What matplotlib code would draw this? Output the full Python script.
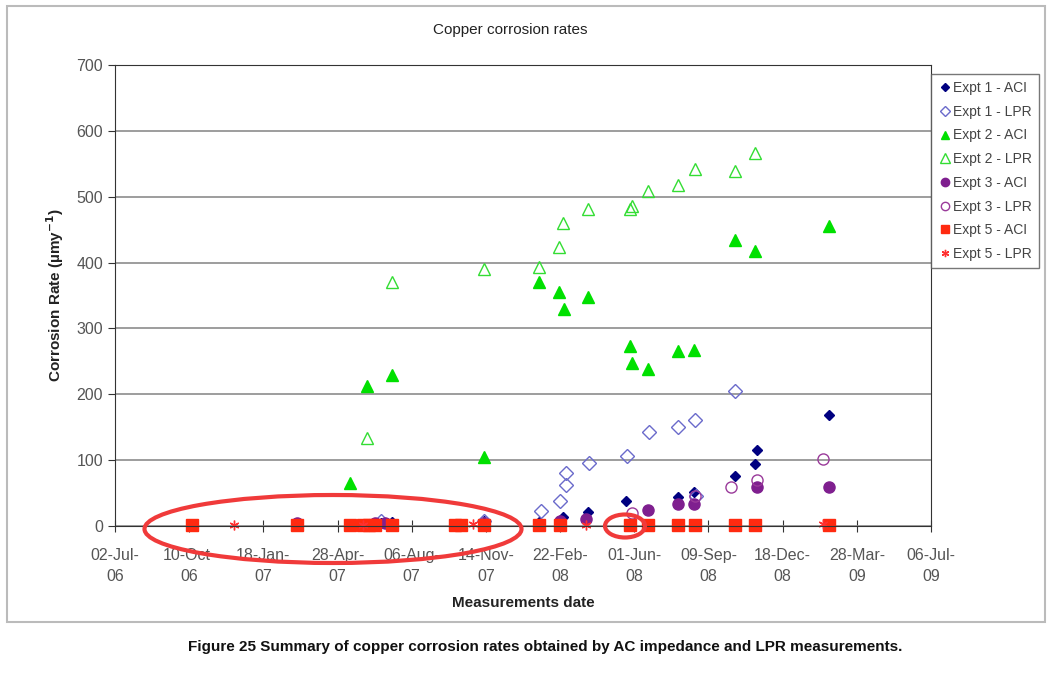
import matplotlib
matplotlib.use('Agg')
import matplotlib.pyplot as plt
import matplotlib.dates as mdates
from matplotlib.patches import Ellipse, Rectangle
import numpy as np
import datetime as dt

plt.rcParams['font.family'] = ['Liberation Sans', 'DejaVu Sans']

# data (dates, corrosion rate in um/y)
e1_aci_d = ['2007-06-25', '2007-07-11', '2007-11-12', '2008-01-24', '2008-02-26', '2008-03-31',
            '2008-05-21', '2008-07-30', '2008-08-20', '2008-10-15', '2008-11-11', '2008-11-14', '2009-02-18']
e1_aci_v = [5, 6, 7, 6, 13, 21, 38, 44, 51, 76, 94, 115, 168]

e1_lpr_d = ['2007-06-25', '2007-11-12', '2008-01-27', '2008-02-22', '2008-03-01', '2008-03-01',
            '2008-04-01', '2008-05-22', '2008-06-21', '2008-07-30', '2008-08-22', '2008-08-23', '2008-10-15']
e1_lpr_v = [7, 8, 23, 38, 63, 80, 96, 107, 142, 151, 161, 45, 205]

e2_aci_d = ['2007-03-05', '2007-05-15', '2007-06-07', '2007-07-11', '2007-11-12', '2008-01-24',
            '2008-02-21', '2008-02-27', '2008-03-31', '2008-05-26', '2008-05-29', '2008-06-19',
            '2008-07-30', '2008-08-20', '2008-10-15', '2008-11-11', '2009-02-18']
e2_aci_v = [3, 65, 213, 229, 105, 371, 356, 329, 347, 274, 248, 239, 266, 268, 434, 418, 456]

e2_lpr_d = ['2007-06-07', '2007-07-11', '2007-11-12', '2008-01-24', '2008-02-21', '2008-02-26',
            '2008-03-31', '2008-05-26', '2008-05-29', '2008-06-19', '2008-07-30', '2008-08-22',
            '2008-10-15', '2008-11-11']
e2_lpr_v = [133, 371, 390, 394, 423, 460, 482, 481, 486, 509, 518, 542, 539, 566]

e3_aci_d = ['2007-03-05', '2007-06-17', '2007-07-01', '2008-02-22', '2008-03-28', '2008-06-19',
            '2008-07-30', '2008-08-20', '2008-11-14', '2009-02-18']
e3_aci_v = [5, 4, 5, 8, 10, 24, 34, 34, 59, 59]

e3_lpr_d = ['2007-11-12', '2008-05-29', '2008-08-22', '2008-10-09', '2008-11-14', '2009-02-10']
e3_lpr_v = [5, 20, 45, 59, 70, 101]

e5_aci_d = ['2006-10-14', '2007-03-05', '2007-05-15', '2007-06-01', '2007-06-10', '2007-06-17',
            '2007-07-11', '2007-10-04', '2007-10-12', '2007-11-12', '2008-01-24', '2008-02-22',
            '2008-05-26', '2008-06-19', '2008-07-30', '2008-08-22', '2008-10-15', '2008-11-11', '2009-02-18']
e5_aci_v = [2, 2, 2, 2, 2, 2, 2, 2, 2, 2, 2, 2, 2, 2, 2, 1, 2, 1, 1]

e5_lpr_d = ['2006-12-10', '2007-06-01', '2007-10-27', '2008-03-28', '2009-02-10']
e5_lpr_v = [1, 2, 3, 1, 3]


def to_num(ds):
    return mdates.date2num([dt.datetime.strptime(d, '%Y-%m-%d') for d in ds])


fig = plt.figure(figsize=(10.5, 6.78), dpi=100)
W, H = 1050, 678
ax = fig.add_axes([115 / W, 1 - 526 / H, (931 - 115) / W, (526 - 65) / H])

ms = 7
kw = dict(ls='none', clip_on=False)
ax.plot(to_num(e1_aci_d), e1_aci_v, 'D', color='#000080', ms=ms - 1.5, label='Expt 1 - ACI', **kw)
ax.plot(to_num(e1_lpr_d), e1_lpr_v, 'D', mfc='none', mec='#6a6acb', mew=1, ms=ms, label='Expt 1 - LPR', **kw)
ax.plot(to_num(e2_aci_d), e2_aci_v, '^', color='#00e000', ms=ms + 1, label='Expt 2 - ACI', **kw)
ax.plot(to_num(e2_lpr_d), e2_lpr_v, '^', mfc='none', mec='#33dd33', mew=1, ms=ms + 2, label='Expt 2 - LPR', **kw)
ax.plot(to_num(e3_aci_d), e3_aci_v, 'o', color='#7f1f8f', ms=ms + 1, label='Expt 3 - ACI', **kw)
ax.plot(to_num(e3_lpr_d), e3_lpr_v, 'o', mfc='none', mec='#9a3a9a', mew=1, ms=ms + 1, label='Expt 3 - LPR', **kw)
ax.plot(to_num(e5_aci_d), e5_aci_v, 's', color='#ff2a10', ms=ms + 1, label='Expt 5 - ACI', **kw)
ax.plot(to_num(e5_lpr_d), e5_lpr_v, marker=(6, 2, 0), color='#ff3030', mew=1, ms=ms, label='Expt 5 - LPR', **kw)

start = mdates.date2num(dt.datetime(2006, 7, 2))
ticks = start + np.arange(0, 1101, 100)
ax.set_xlim(ticks[0], ticks[-1])
ax.set_xticks(ticks)
ax.xaxis.set_major_formatter(mdates.DateFormatter('%d-%b-\n%y'))
ax.set_ylim(0, 700)
ax.set_yticks(np.arange(0, 701, 100))
ax.yaxis.grid(True, color='#8c8c8c', lw=1.2)
ax.set_axisbelow(True)
ax.tick_params(axis='both', labelsize=11.5, labelcolor='#555555', color='#333333', length=5)
ax.tick_params(axis='x', direction='inout', length=8, pad=12)
for lab in ax.get_xticklabels():
    lab.set_linespacing(1.5)
for s in ax.spines.values():
    s.set_color('#333333')

fig.text(510 / W, 1 - 30 / H, 'Copper corrosion rates', ha='center', va='center', fontsize=11, color='#222222')
fig.text(55 / W, 1 - 295 / H, 'Corrosion Rate (µmy$^{\\mathbf{-1}}$)', rotation=90, ha='center', va='center',
         fontsize=11, fontweight='bold', color='#222222')
fig.text(523 / W, 1 - 603 / H, 'Measurements date', ha='center', va='center', fontsize=11,
         fontweight='bold', color='#222222')
fig.text(545 / W, 1 - 647 / H,
         'Figure 25 Summary of copper corrosion rates obtained by AC impedance and LPR measurements.',
         ha='center', va='center', fontsize=11, fontweight='bold', color='#111111')

leg = fig.legend(loc='upper left', bbox_to_anchor=(931 / W, 1 - 74 / H), fontsize=10, frameon=True,
                 fancybox=False, edgecolor='#555555', handletextpad=0.1, handlelength=1.0,
                 labelspacing=0.7, borderpad=0.5, markerscale=0.75, borderaxespad=0)
leg.get_frame().set_linewidth(1)
for t in leg.get_texts():
    t.set_color('#444444')

# red hand-drawn ellipses
fig.add_artist(Ellipse((333 / W, 1 - 529 / H), 377 / W, 68 / H, transform=fig.transFigure,
                       fill=False, ec='#f03a3a', lw=3))
fig.add_artist(Ellipse((625 / W, 1 - 526 / H), 40 / W, 23 / H, transform=fig.transFigure,
                       fill=False, ec='#f03a3a', lw=3))
fig.add_artist(Rectangle((7 / W, 1 - 622 / H), 1038 / W, 616 / H, transform=fig.transFigure,
                         fill=False, ec='#bbbbbb', lw=1.5))

fig.savefig('out.png', dpi=100)
